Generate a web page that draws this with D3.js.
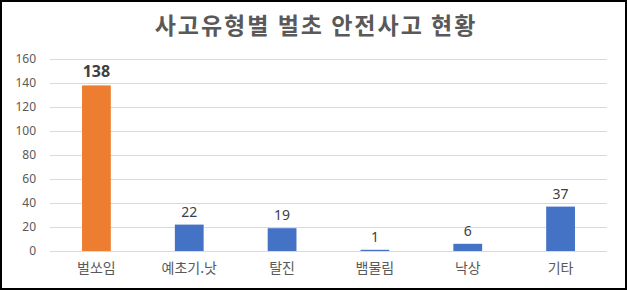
<!DOCTYPE html>
<html>
<head>
<meta charset="utf-8">
<script src="https://cdn.jsdelivr.net/npm/d3@7"></script>
<style>
  body { margin: 0; background: #fff; }
  svg { display: block; font-family: "Noto Sans CJK KR", "Noto Sans", sans-serif; }
</style>
</head>
<body>
<svg id="chart"></svg>
<script>
// chart data
let categories = ['벌쏘임', '예초기.낫', '탈진', '뱀물림', '낙상', '기타'];
let counts = [138, 22, 19, 1, 6, 37];
let highlight = ['벌쏘임'];
let yTicks = [0, 20, 40, 60, 80, 100, 120, 140, 160];
let title = '사고유형별 벌초 안전사고 현황';

let w = 628;
let h = 290;

let dataset = categories.map((c, i) => ({ name: c, count: counts[i] }));

let chart = d3.select('#chart')
  .attr('width', w)
  .attr('height', h);

// outer frame
chart.append('rect')
  .attr('x', 1)
  .attr('y', 1)
  .attr('width', 625)
  .attr('height', 288)
  .attr('fill', '#fff')
  .attr('stroke', '#000')
  .attr('stroke-width', 2);

chart.append('text')
  .attr('x', 316)
  .attr('y', 34)
  .attr('text-anchor', 'middle')
  .attr('font-size', 23)
  .attr('font-weight', 'bold')
  .attr('letter-spacing', 2)
  .attr('fill', '#595959')
  .text(title);

let xScale = d3.scaleBand()
  .domain(categories)
  .range([50, 607])
  .paddingInner(0.69)
  .paddingOuter(0.345);

let yScale = d3.scaleLinear()
  .domain([0, 160])
  .range([251, 59]);

// gridlines
chart.append('g')
  .selectAll('line')
  .data(yTicks)
  .enter()
  .append('line')
  .attr('x1', 50)
  .attr('x2', 607)
  .attr('y1', (d) => yScale(d) + 0.5)
  .attr('y2', (d) => yScale(d) + 0.5)
  .attr('stroke', '#d9d9d9')
  .attr('stroke-width', 1);

// y axis labels
let yAxis = chart.append('g')
  .attr('transform', 'translate(36,0)')
  .call(d3.axisLeft(yScale).tickValues(yTicks).tickSize(0).tickPadding(0));
yAxis.select('.domain').remove();
yAxis.selectAll('text')
  .attr('font-size', 12)
  .attr('font-family', '"Noto Sans", sans-serif')
  .attr('fill', '#595959');

// bars
chart.append('g')
  .selectAll('rect')
  .data(dataset)
  .enter()
  .append('rect')
  .attr('x', (d) => xScale(d.name))
  .attr('y', (d) => yScale(d.count))
  .attr('width', xScale.bandwidth())
  .attr('height', (d) => yScale(0) - yScale(d.count))
  .attr('fill', (d) => highlight.includes(d.name) ? '#ED7D31' : '#4472C4');

// value labels
chart.append('g')
  .selectAll('text')
  .data(dataset)
  .enter()
  .append('text')
  .attr('x', (d) => xScale(d.name) + xScale.bandwidth() / 2)
  .attr('y', (d) => yScale(d.count) - 8)
  .attr('text-anchor', 'middle')
  .attr('font-size', (d) => highlight.includes(d.name) ? 16 : 14)
  .attr('font-weight', (d) => highlight.includes(d.name) ? 'bold' : 'normal')
  .attr('font-family', '"Noto Sans", sans-serif')
  .attr('fill', '#404040')
  .text((d) => d.count);

// category labels
let xAxis = chart.append('g')
  .attr('transform', 'translate(0,251)')
  .call(d3.axisBottom(xScale).tickSize(0).tickPadding(12));
xAxis.select('.domain').remove();
xAxis.selectAll('text')
  .attr('font-size', 14)
  .attr('font-family', '"Noto Sans CJK KR", sans-serif')
  .attr('fill', '#595959');
</script>
</body>
</html>
